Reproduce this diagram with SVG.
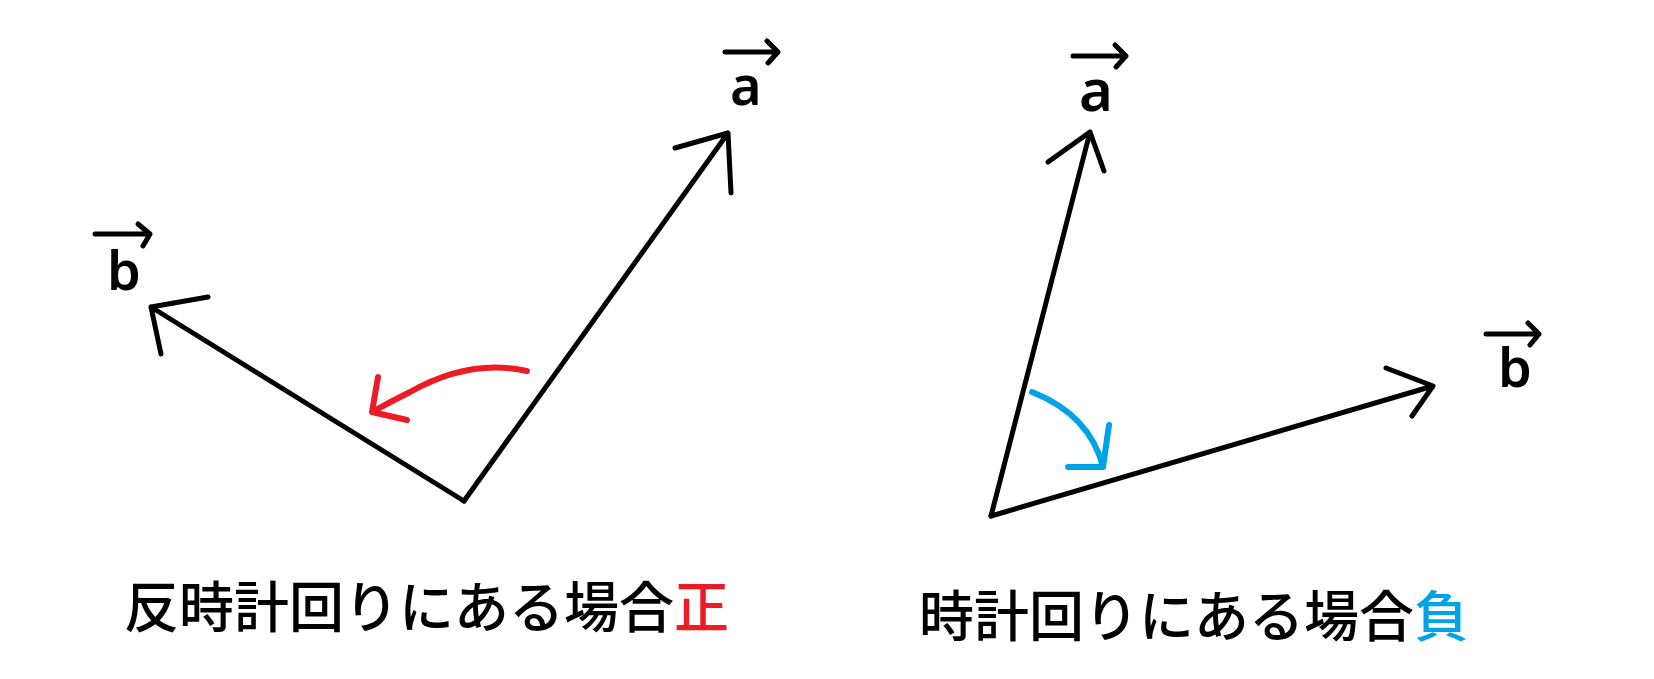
<svg xmlns="http://www.w3.org/2000/svg" width="1654" height="679" viewBox="0 0 1654 679">
<style>
.ln{fill:none;stroke:#000;stroke-width:5;stroke-linecap:round;stroke-linejoin:round}
.red{fill:none;stroke:#ED1C24;stroke-width:6;stroke-linecap:round;stroke-linejoin:round}
.blue{fill:none;stroke:#00A2E8;stroke-width:6;stroke-linecap:round;stroke-linejoin:round}
.lbl{font-family:"Noto Sans","Liberation Sans",Arial,sans-serif;font-weight:600;font-size:54px;fill:#000}
.cap{font-family:"Noto Sans CJK JP","Noto Sans CJK SC",sans-serif;font-weight:500;font-size:55px;fill:#000}
</style>
<rect width="1654" height="679" fill="#fff"/>
<g id="connectors">
  <path class="ln" d="M464,501 L151,307 M208,297 L151,307 L161,354"/>
  <path class="ln" d="M464,501 L728,133 M675,148 L728,133 L731,193"/>
  <path class="red" d="M527,371 Q470,358 410,392 Q390,402 372,412 M378,377 L372,412 L407,420"/>
  <path class="ln" d="M991,516 L1090,132 M1048,162 L1090,132 L1104,171"/>
  <path class="ln" d="M991,516 L1433,386 M1386,368 L1433,386 L1412,416"/>
  <path class="blue" d="M1032,392 Q1090,415 1103,467 M1068,467 L1103,467 L1109,425"/>
</g>
<g id="label-b-left">
  <path class="ln" d="M95,234 L150,234 M138,224 L150,234 L143,246"/>
  <text class="lbl" x="107" y="290">b</text>
</g>
<g id="label-a-left">
  <path class="ln" d="M725,52 L778,52 M767,41 L778,52 L768,63"/>
  <text class="lbl" x="730" y="105">a</text>
</g>
<g id="label-a-right">
  <path class="ln" d="M1073,56 L1126,56 M1115,45 L1126,56 L1116,67"/>
  <text class="lbl" x="1079" y="111" style="font-size:58px">a</text>
</g>
<g id="label-b-right">
  <path class="ln" d="M1486,334 L1539,334 M1528,323 L1539,334 L1530,345"/>
  <text class="lbl" x="1498" y="387">b</text>
</g>
<g id="caption-left">
  <text class="cap" x="124" y="627">反時計回りにある場合<tspan fill="#ED1C24">正</tspan></text>
</g>
<g id="caption-right">
  <text class="cap" x="919" y="636">時計回りにある場合<tspan fill="#00A2E8">負</tspan></text>
</g>
</svg>
